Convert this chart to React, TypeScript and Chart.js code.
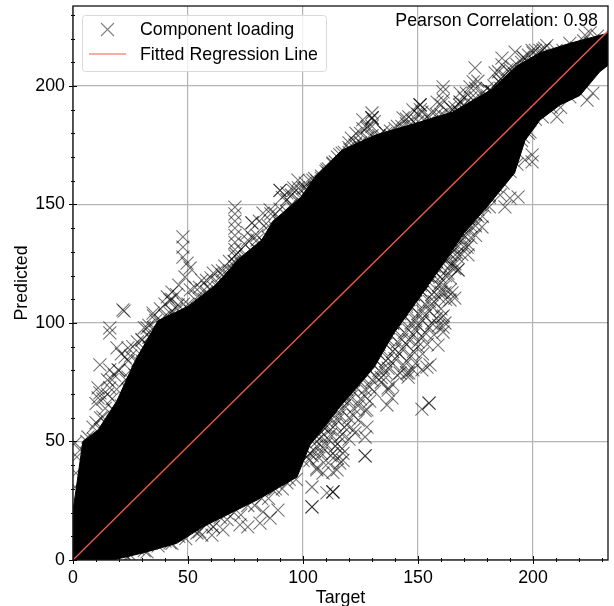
import React, { useEffect, useRef } from "react";
import { Chart, registerables } from "chart.js";

Chart.register(...registerables);

const POINT_LABEL = "Component loading";
const LINE_LABEL = "Fitted Regression Line";
const CORRELATION_TEXT = "Pearson Correlation: 0.98";
const X_TITLE = "Target";
const Y_TITLE = "Predicted";

const denseUpperTarget = [0, 1.3, 4.3, 11, 19, 27, 37, 50, 62, 72, 82, 87, 99, 106, 117, 132, 147, 165, 182, 193, 203, 216, 233];
const denseUpperPredicted = [21, 29.5, 50, 55, 67, 84, 101, 107, 116, 127, 135, 143, 153, 162.6, 173, 179.5, 183.7, 189, 198.5, 208.5, 214, 218, 222.4];
const denseLowerTarget = [0, 17.4, 30.4, 45, 56.5, 80, 97.4, 103, 116, 131, 139, 153, 162, 170, 180, 192, 196.5, 203, 211.7, 220.4, 229, 233];
const denseLowerPredicted = [0, 0, 3, 7, 14, 25.3, 35, 48.5, 64.6, 81.4, 95, 114, 126.6, 138, 149, 163.3, 177, 185.6, 192, 196, 206, 209];

const loadingTarget = [
  47.8, 47.8, 47.8, 49.6, 50.9, 48.7, 43, 45.7, 42.2, 34.8, 21.7, 22.2, 16, 16, 32.2, 30, 33.5, 19.1, 23.9, 22.6,
  11.7, 16, 19.6, 10.9, 17, 23.9, 58.3, 64.8, 56, 42.2, 11.7, 16, 10.9, 8.7, 13, 17.4, 0.9, 1.7, 1.3, 0.9, 3, 6.5,
  70.4, 70.4, 70.4, 70.4, 70.4, 70.4, 70.4, 70.4, 70.4, 77.8, 77.8, 80, 76, 82.6, 85.7, 90, 90, 93, 97.8, 95.7,
  104.3, 100.9, 110.4, 114.8, 117, 122.6, 113, 119.6, 130, 130, 130, 127.8, 130, 126, 124.8, 120.4, 143.5, 150.9,
  150.9, 150.9, 147.8, 151.7, 160.9, 160.9, 158.3, 168.3, 168.3, 168.3, 163.9, 174.8, 174, 172.6, 182.2, 182.2,
  182.2, 178.3, 186.5, 186.5, 183.5, 188.7, 185.7, 222.6, 224.8, 199.6, 192.2, 195.7, 204.3, 217.4, 219.1, 216,
  223.5, 210.4, 226, 103.9, 103.9, 103.9, 110.4, 113, 113, 113, 127, 127, 136.5, 137, 138.7, 151.7, 154.8, 154.8,
  127, 122.6, 116, 106, 113, 117.4, 153.9, 147.8, 158.7, 160.9, 145.2, 127.8, 127.8, 166, 164.8, 160.9, 155.2,
  145.7, 137, 151.7, 167.4, 159.6, 142.2, 199.6, 199.6, 196.5, 193.5, 190, 187.8, 185.7, 177.8, 171.3, 171.7, 167,
  167.4, 164.8, 163.9, 161.7, 160.4, 161.7, 195.7, 198.7, 89.1, 85.7, 81.3, 76, 72.6, 65.2, 60.4, 56, 87, 93, 82.6,
  108.7, 114.8, 117.4, 106, 101.7, 67, 60.9, 53.9, 42.2, 32.2, 23.5,
];
const loadingPredicted = [
  136.3, 132, 127.8, 125.3, 123.2, 119.4, 113, 107.6, 109.7, 104.2, 105.5, 105, 97.9, 95.8, 97.9, 92.8, 94, 89.5, 89.5, 85.7,
  82.3, 80.2, 80.2, 72.6, 76, 77.2, 115.2, 120.3, 107.6, 104.2, 70.5, 72.6, 68.4, 56.1, 60.3, 63.3, 49.4, 43.5, 36.7, 30.8, 46.4, 51.9,
  148.9, 146, 143, 140, 137, 134, 131, 128.3, 125.7, 142.2, 142.2, 135, 135, 146.4, 147.7, 156, 156, 154.9, 160.3, 156,
  160.3, 157, 164.6, 161.6, 171.7, 175, 167.5, 170, 186.5, 186.5, 186.5, 182.3, 188.6, 185.7, 174.3, 173, 186.5, 192,
  192, 192, 189.9, 189, 199.6, 197.5, 193.2, 197, 193.2, 193.2, 191, 207.6, 201.7, 199.6, 197.5, 197.5,
  197.5, 194, 211.8, 208.9, 205.5, 206.8, 201.3, 221.5, 222.4, 215, 214.3, 212.2, 215.2, 203.8, 201.3, 195.4,
  194, 187, 197, 30.8, 22.4, 22.4, 28.3, 28.7, 28.7, 28.7, 43.9, 43.9, 65.4, 71.7, 68.4, 63.7, 66.2, 66.2,
  51.9, 53.6, 40.9, 38, 37, 45, 81.4, 80.2, 90.7, 96.2, 78.9, 63.3, 56.1, 110.5, 112.7, 98.3, 82.3,
  77.2, 72.6, 80.2, 122.4, 119.4, 78.9, 170.9, 168, 168.8, 153.2, 152.7, 149, 154, 140.5, 132, 128.7, 129.5,
  122.4, 125.3, 109.7, 112.7, 102.5, 100, 178.5, 180.6, 21, 17.7, 15.6, 14, 14.8, 12.7, 10.5, 10.5, 29.5, 32.5, 20.3,
  36.7, 38, 42, 38.8, 43.5, 19.8, 14, 11.4, 7.2, 3.4, 1.3,
];

const upperEdgeTarget = [6, 9, 12, 15, 18, 21, 24, 27, 30, 33, 36, 39, 42, 45, 48, 51, 54, 57, 60, 63, 66, 69, 72, 75, 78, 81, 84, 87, 90, 93, 96, 99, 102, 105, 108, 111, 114, 117, 120, 123, 126, 129, 132, 135, 138, 141, 144, 147, 150, 153, 156, 159, 162, 165, 168, 171, 174, 177, 180, 183, 186, 189, 192, 195, 198, 201, 204, 207, 210, 213, 216, 219, 222, 225, 228, 231];
const upperEdgePredicted = [50, 51, 55, 57, 63, 65, 72, 78, 84, 90, 93, 98, 98, 102, 101, 105, 106, 110, 110, 115, 114, 118, 122, 124, 127, 128, 133, 135, 142, 143, 148, 149, 153, 155, 161, 163, 168, 168, 172, 172, 175, 175, 177, 176, 179, 178, 181, 180, 183, 181, 185, 184, 187, 185, 189, 189, 192, 192, 196, 195, 199, 200, 205, 206, 210, 210, 213, 212, 215, 215, 218, 216, 219, 218, 221, 219];
const lowerEdgeTarget = [22, 25, 28, 31, 34, 37, 40, 43, 46, 49, 52, 55, 58, 61, 64, 67, 70, 73, 76, 79, 82, 85, 88, 91, 94, 97, 100, 103, 106, 109, 112, 115, 118, 121, 124, 127, 130, 133, 136, 139, 142, 145, 148, 151, 154, 157, 160, 163, 166, 169, 172, 175, 178, 181, 184, 187, 190, 193, 195, 198, 201, 204, 208, 212];
const lowerEdgePredicted = [3, 2, 5, 4, 7, 6, 8, 7, 10, 9, 13, 12, 15, 14, 18, 17, 20, 19, 23, 23, 26, 26, 30, 30, 34, 34, 42, 45, 52, 56, 64, 67, 74, 76, 81, 82, 88, 91, 97, 100, 105, 107, 112, 114, 120, 122, 128, 130, 136, 138, 144, 146, 151, 153, 158, 159, 164, 167, 177, 180, 186, 187, 191, 191];

const upperFringeTarget = [
  10, 10, 14, 15, 15, 19, 20, 21, 25, 25, 26, 30, 30, 31, 35, 35, 36, 40, 40, 41, 45, 45, 46, 50, 51, 55, 55, 56,
  60, 60, 61, 65, 65, 66, 70, 70, 71, 75, 75, 76, 80, 80, 81, 85, 85, 86, 90, 90, 91, 95, 95, 96, 100, 100, 101,
  105, 105, 106, 110, 111, 115, 116, 120, 120, 121, 125, 125, 126, 130, 130, 131, 135, 136, 140, 141, 145, 145, 146,
  150, 150, 151, 155, 156, 160, 160, 161, 165, 166, 170, 170, 171, 175, 175, 176, 180, 181, 185, 185, 186, 190, 191,
  195, 196, 200, 201, 205, 206,
  12, 13, 17, 18, 23, 24, 28, 28, 33, 33, 38, 38, 43, 43, 48, 53, 53, 58, 58, 63, 63, 68, 68, 73, 73, 78, 78, 83, 83, 88, 88,
  93, 93, 98, 98, 103, 103, 108, 113, 118, 123, 123, 128, 128, 133, 138, 143, 148, 153, 158, 163, 168, 173, 178, 183, 188, 193, 198, 203,
];
const upperFringePredicted = [
  58, 66, 64, 70, 76, 72, 80, 87, 80, 86, 90, 88, 93, 98, 98, 103, 101, 103, 108, 111, 106, 112, 116, 108, 114, 111, 115, 118,
  114, 119, 121, 118, 122, 124, 122, 126, 129, 128, 133, 138, 131, 137, 143, 136, 141, 146, 143, 148, 153, 150, 154, 157, 153, 157, 159,
  157, 161, 160, 164, 165, 170, 171, 174, 176, 178, 176, 180, 182, 179, 183, 185, 181, 180, 182, 183, 184, 186, 187,
  185, 188, 190, 187, 189, 188, 192, 194, 190, 191, 192, 195, 197, 195, 199, 202, 199, 198, 202, 206, 203, 207, 208,
  210, 212, 214, 215, 216, 217,
  60, 68, 68, 78, 76, 84, 84, 92, 94, 99, 101, 106, 105, 110, 108, 110, 115, 113, 118, 117, 122, 120, 126, 125, 131, 130, 136, 134, 141, 140, 146,
  147, 152, 152, 157, 155, 160, 162, 167, 172, 176, 180, 178, 183, 179, 181, 183, 185, 186, 188, 189, 192, 195, 197, 200, 204, 209, 213, 215,
];
const lowerFringeTarget = [
  103, 107, 111, 115, 105, 109, 113, 117, 106, 111, 115, 120, 108, 112, 117, 122, 111, 115, 119, 124, 113, 117, 122, 127,
  115, 120, 124, 129, 118, 122, 127, 131, 120, 125, 129, 134, 139, 123, 127, 132, 136, 141, 146, 125, 130, 135, 139, 144, 149,
  128, 133, 137, 142, 147, 152, 131, 136, 140, 145, 150, 154, 134, 138, 143, 148, 152, 157, 137, 141, 146, 150, 155, 159,
  140, 144, 149, 153, 158, 161, 143, 147, 152, 156, 160, 146, 150, 155, 159, 162, 149, 153, 157, 161, 164, 152, 156, 160, 164,
  155, 159, 163, 166, 158, 162, 166, 162, 166, 169, 165, 169, 172, 168, 172, 175, 171, 175, 174, 178, 177, 181, 181,
  104, 108, 112, 106, 110, 114, 108, 112, 116, 110, 114, 118, 112, 116, 120, 114, 118, 122, 117, 121, 125, 119, 123, 127,
  122, 126, 130, 134, 124, 128, 133, 137, 127, 131, 136, 140, 145, 130, 134, 139, 143, 148, 133, 137, 141, 146, 150,
  136, 140, 144, 149, 153, 139, 143, 147, 152, 156, 142, 146, 150, 155, 145, 149, 153, 157, 148, 152, 156, 160,
  151, 155, 159, 154, 158, 162, 157, 161, 164, 161, 164, 167, 164, 167, 170, 167, 170, 173, 170, 173, 173, 176, 176, 179,
];
const lowerFringePredicted = [
  42, 43, 41, 43, 46, 47, 45, 47, 50, 51, 49, 51, 54, 55, 53, 55, 58, 59, 57, 59, 62, 63, 61, 63,
  66, 67, 65, 67, 70, 71, 69, 71, 74, 75, 73, 75, 74, 78, 79, 77, 79, 78, 79, 82, 83, 81, 83, 82, 83,
  86, 87, 85, 87, 86, 87, 90, 91, 89, 91, 90, 91, 94, 95, 93, 95, 94, 95, 98, 99, 97, 99, 98, 99,
  102, 103, 101, 103, 102, 103, 106, 107, 105, 107, 106, 110, 111, 109, 111, 110, 114, 115, 113, 115, 114, 118, 119, 117, 119,
  122, 123, 121, 123, 126, 127, 125, 130, 131, 129, 134, 135, 133, 138, 139, 137, 142, 141, 146, 145, 150, 149, 154,
  44, 45, 44, 48, 49, 48, 52, 53, 52, 56, 57, 56, 60, 61, 60, 64, 65, 64, 68, 69, 68, 72, 73, 72,
  76, 77, 76, 77, 80, 81, 80, 81, 84, 85, 84, 85, 84, 88, 89, 88, 89, 88, 92, 93, 92, 93, 92,
  96, 97, 96, 97, 96, 100, 101, 100, 101, 100, 104, 105, 104, 105, 108, 109, 108, 109, 112, 113, 112, 113,
  116, 117, 116, 120, 121, 120, 124, 125, 124, 128, 129, 128, 132, 133, 132, 136, 137, 136, 140, 141, 144, 145, 148, 149,
];

const fitTarget = [0, 233];
const fitPredicted = [0, 223.6];

const toPoints = (xs: number[], ys: number[]) => xs.map((x, i) => ({ x, y: ys[i] }));

const FONT = '"Liberation Sans", Arial, sans-serif';
const FS = 17.8;
const SALMON = "rgb(240,90,70)";

const frame = {
  id: "frame",
  afterDraw(chart: any) {
    const { ctx, chartArea: a, scales } = chart;
    ctx.save();
    ctx.strokeStyle = "#000";
    ctx.lineWidth = 1;
    scales.x.ticks.forEach((t: any) => {
      const p = Math.round(scales.x.getPixelForValue(t.value)) + 0.5;
      const h = t.value % 50 === 0 ? 4 : 2;
      ctx.beginPath(); ctx.moveTo(p, a.bottom - h); ctx.lineTo(p, a.bottom + h); ctx.stroke();
    });
    scales.y.ticks.forEach((t: any) => {
      const p = Math.round(scales.y.getPixelForValue(t.value)) + 0.5;
      const h = t.value % 50 === 0 ? 4 : 2;
      ctx.beginPath(); ctx.moveTo(a.left - h, p); ctx.lineTo(a.left + h, p); ctx.stroke();
    });
    ctx.lineWidth = 1.3;
    ctx.strokeStyle = "#111";
    ctx.strokeRect(a.left, a.top, a.right - a.left, a.bottom - a.top);
    ctx.font = `${FS}px ${FONT}`;
    ctx.fillStyle = "#000";
    ctx.textAlign = "right";
    ctx.textBaseline = "middle";
    ctx.fillText(CORRELATION_TEXT, 598, 21);
    ctx.beginPath();
    ctx.roundRect(82.5, 15.5, 244, 56, 3);
    ctx.fillStyle = "rgba(255,255,255,0.8)";
    ctx.fill();
    ctx.strokeStyle = "#d9d9d9";
    ctx.lineWidth = 1;
    ctx.stroke();
    ctx.strokeStyle = "rgba(0,0,0,0.5)";
    ctx.lineWidth = 1.1;
    ctx.beginPath();
    ctx.moveTo(101, 23); ctx.lineTo(114, 36);
    ctx.moveTo(114, 23); ctx.lineTo(101, 36);
    ctx.stroke();
    ctx.strokeStyle = SALMON;
    ctx.lineWidth = 1;
    ctx.beginPath();
    ctx.moveTo(89, 54); ctx.lineTo(126, 54);
    ctx.stroke();
    ctx.fillStyle = "#000";
    ctx.textAlign = "left";
    ctx.fillText(POINT_LABEL, 140, 30);
    ctx.fillText(LINE_LABEL, 140, 55);
    ctx.restore();
  },
};

const axis = (title: string, max: number, pad: number, titlePad: any, fixed: (s: any) => void) => ({
  type: "linear" as const,
  min: 0,
  max,
  afterFit: (s: any) => {
    fixed(s);
    s.paddingTop = 0;
    s.paddingBottom = 0;
    s.paddingLeft = 0;
    s.paddingRight = 0;
  },
  border: { display: false },
  grid: {
    drawTicks: false,
    lineWidth: 1.2,
    color: (c: any) => (c.tick && c.tick.value % 50 === 0 ? "#b4b4b4" : "rgba(0,0,0,0)"),
  },
  ticks: {
    stepSize: 10,
    includeBounds: false,
    autoSkip: false,
    maxRotation: 0,
    padding: pad,
    color: "#000",
    font: { family: FONT, size: FS },
    callback: (v: any) => (Number(v) % 50 === 0 ? String(v) : ""),
  },
  title: {
    display: true,
    text: title,
    color: "#000",
    font: { family: FONT, size: FS },
    padding: titlePad,
  },
});

export default function App() {
  const ref = useRef<HTMLCanvasElement>(null);
  useEffect(() => {
    document.body.style.margin = "0";
    const chart = new Chart(ref.current as HTMLCanvasElement, {
      type: "scatter",
      data: {
        datasets: [
          {
            label: LINE_LABEL,
            data: toPoints(fitTarget, fitPredicted),
            showLine: true,
            pointRadius: 0,
            borderColor: SALMON,
            borderWidth: 1.3,
            order: 0,
            clip: 0,
          },
          {
            label: POINT_LABEL,
            data: [
              ...toPoints(loadingTarget, loadingPredicted),
              ...toPoints(upperEdgeTarget, upperEdgePredicted),
              ...toPoints(lowerEdgeTarget, lowerEdgePredicted),
              ...toPoints(upperFringeTarget, upperFringePredicted),
              ...toPoints(lowerFringeTarget, lowerFringePredicted),
            ],
            pointStyle: "crossRot",
            pointRadius: 9.2,
            pointBorderWidth: 1.1,
            pointBorderColor: "rgba(0,0,0,0.55)",
            pointBackgroundColor: "rgba(0,0,0,0)",
            order: 1,
            clip: 0,
          },
          {
            label: "dense upper",
            data: toPoints(denseUpperTarget, denseUpperPredicted),
            showLine: true,
            pointRadius: 0,
            borderColor: "#000",
            borderWidth: 1,
            backgroundColor: "#000",
            fill: "+1",
            order: 2,
            clip: 0,
          },
          {
            label: "dense lower",
            data: toPoints(denseLowerTarget, denseLowerPredicted),
            showLine: true,
            pointRadius: 0,
            borderColor: "#000",
            borderWidth: 1,
            order: 3,
            clip: 0,
          },
        ],
      } as any,
      options: {
        animation: false,
        responsive: false,
        layout: { autoPadding: false, padding: { top: 6, right: 6, left: 11, bottom: 0 } },
        plugins: { legend: { display: false }, tooltip: { enabled: false } },
        scales: {
          x: axis(X_TITLE, 232.6, 7, { top: 0, bottom: -3 }, (s: any) => { s.height = 46; }),
          y: axis(Y_TITLE, 233.75, 8, 0, (s: any) => { s.width = 62; }),
        },
      } as any,
      plugins: [frame],
    });
    return () => chart.destroy();
  }, []);
  return <canvas ref={ref} width={614} height={606} style={{ display: "block" }} />;
}
